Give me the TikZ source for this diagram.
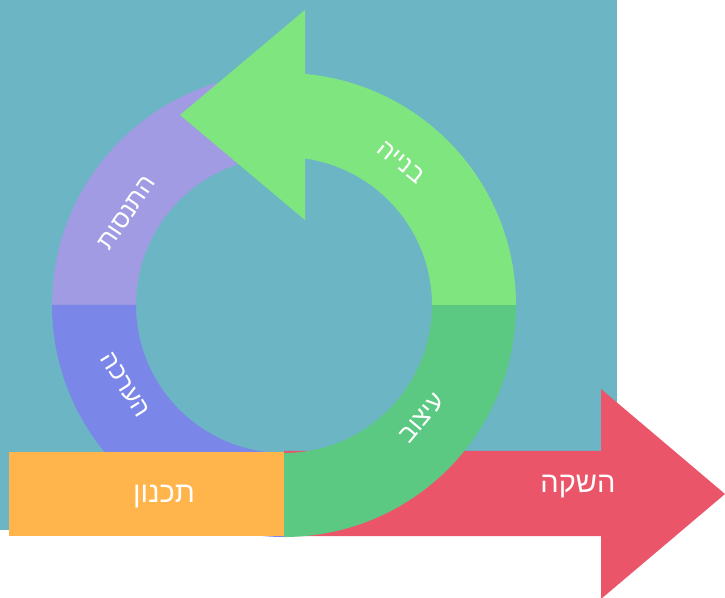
\documentclass[tikz,border=0pt]{standalone}
\usepackage{fontspec}
\newfontfamily\hebfont[Script=Hebrew]{Liberation Sans}
\TeXXeTstate=1
\definecolor{bgteal}{RGB}{108,181,197}
\definecolor{ringpurple}{RGB}{160,155,226}
\definecolor{ringblue}{RGB}{123,134,233}
\definecolor{ringdkgreen}{RGB}{92,201,130}
\definecolor{ringltgreen}{RGB}{127,230,127}
\definecolor{planorange}{RGB}{255,181,76}
\definecolor{launchred}{RGB}{235,85,105}
\tikzset{
  ringlabel/.style={text=white, font=\hebfont\fontsize{25}{30}\selectfont, inner sep=0pt},
  barlabel/.style={text=white, font=\hebfont\fontsize{29}{34}\selectfont, inner sep=0pt}
}
\begin{document}
\begin{tikzpicture}[x=1pt,y=1pt]
\useasboundingbox (0,0) rectangle (725,597);
\clip (0,0) rectangle (725,597);
% background
\fill[bgteal] (0,67) rectangle (617,597);
% ring quadrants
\fill[ringpurple] (284,524) arc[start angle=90,end angle=180,radius=232]
  -- (136,292) arc[start angle=180,end angle=90,radius=148] -- cycle;
\fill[ringblue] (52,292) arc[start angle=180,end angle=270,radius=232]
  -- (284,144) arc[start angle=270,end angle=180,radius=148] -- cycle;
% launch arrow
\fill[launchred] (284,146) -- (601,146) -- (601,208) -- (725,103) -- (601,-2)
  -- (601,61) -- (284,61) -- cycle;
\fill[ringdkgreen] (284,60) arc[start angle=270,end angle=360,radius=232]
  -- (432,292) arc[start angle=360,end angle=270,radius=148] -- cycle;
% building arrow
\fill[ringltgreen] (516,292) arc[start angle=0,end angle=84.81,radius=232]
  -- (305,438.5) arc[start angle=81.84,end angle=0,radius=148] -- cycle;
\fill[ringltgreen] (305,587) -- (180,482) -- (305,377) -- cycle;
% planning bar
\fill[planorange] (9,61) rectangle (284,145);
% labels
\node[barlabel] (plan) at (164,100) {\beginR תכנון\endR};
\node[barlabel] (launch) at (578,110) {\beginR השקה\endR};
\node[ringlabel, rotate=-39] (build) at (401,435) {\beginR בנייה\endR};
\node[ringlabel, rotate=56] (exper) at (127,384) {\beginR התנסות\endR};
\node[ringlabel, rotate=-58] (eval) at (125,212) {\beginR הערכה\endR};
\node[ringlabel, rotate=50] (design) at (422,179) {\beginR עיצוב\endR};
\end{tikzpicture}
\end{document}
